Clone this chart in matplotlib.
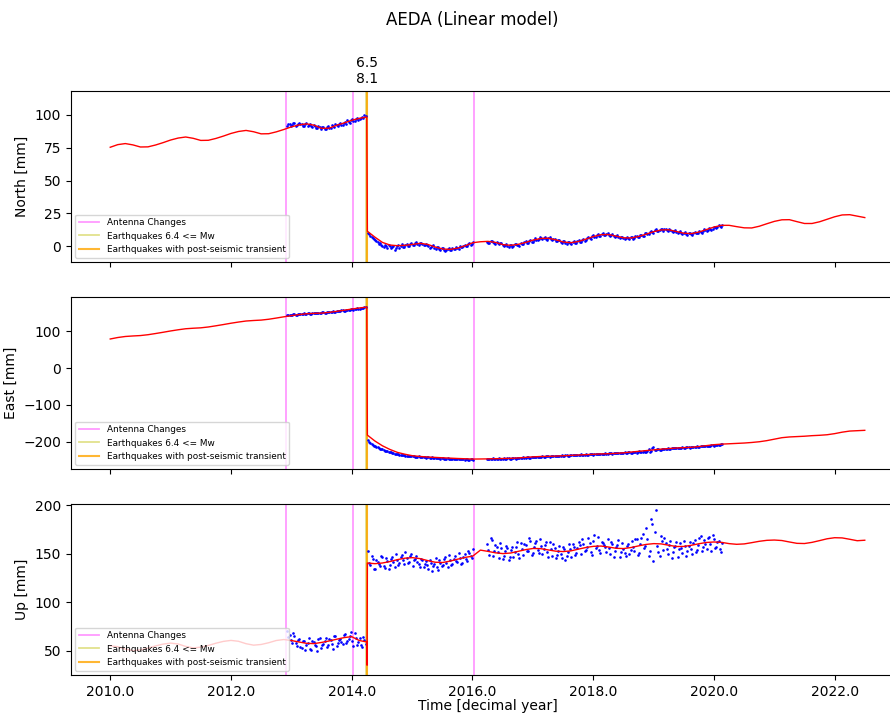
import numpy as np
import matplotlib.pyplot as plt
from matplotlib.ticker import FormatStrFormatter

station = "AEDA"

# events (decimal years)
antenna_changes = [2012.92, 2014.02, 2016.02]
quakes_mw64 = [2014.245, 2014.25]
quakes_transient = [2014.26]
quake_mw_labels = ["6.5", "8.1"]

# ---- model (red) : pre-earthquake part 2010.0 .. 2014.25 every 1/8 yr
north_model_pre = [75.4, 77.4, 78.2, 77.2, 75.6, 75.7, 77.1, 78.9,
                   80.9, 82.4, 83.2, 82.2, 80.6, 80.7, 82.1, 83.9,
                   85.9, 87.4, 88.2, 87.2, 85.6, 85.7, 87.1, 88.9,
                   90.9, 92.4, 93.2, 92.2, 89.8, 89.9, 92.1, 93.9,
                   95.9, 97.4, 98.4]
east_model_pre = [79.0, 83.0, 85.8, 87.2, 88.3, 90.6, 93.8, 97.2,
                  100.8, 104.0, 106.8, 108.2, 109.3, 111.6, 114.8, 118.2,
                  121.8, 125.0, 127.8, 129.2, 130.3, 132.6, 135.8, 139.2,
                  142.3, 145.2, 147.5, 148.6, 149.3, 151.3, 154.0, 157.1,
                  160.3, 163.2, 165.5]
up_model_pre = [55.0, 54.1, 51.6, 50.1, 50.8, 52.6, 54.9, 56.8,
                57.8, 56.9, 54.4, 52.9, 53.6, 55.4, 57.7, 59.6,
                60.6, 59.7, 57.2, 55.7, 56.4, 58.2, 60.5, 61.5,
                60.5, 59.0, 57.6, 57.3, 58.5, 60.0, 61.8, 63.5,
                64.5, 60.5, 59.0]
up_model_coseismic_dip = 35.0

# ---- model (red) : post-earthquake part 2014.26 .. 2022.5
north_model_post = [11.5, 7.0, 3.0, 1.0, 0.5, 0.8, 1.5, 2.3, 1.5, -0.5,
                    -2.0, -2.3, -1.3, 0.5, 2.8, 3.5, 3.8, 3.0, 1.3, 0.8,
                    1.5, 3.0, 4.8, 6.0, 6.2, 5.0, 3.3, 2.8, 3.7, 5.5,
                    7.5, 8.9, 9.0, 7.8, 6.5, 6.4, 7.5, 9.3, 11.2, 12.5,
                    12.6, 11.3, 10.0, 9.7, 10.9, 12.8, 14.7, 16.0, 16.0, 15.0,
                    14.1, 14.0, 15.3, 17.2, 19.0, 20.2, 20.3, 18.8, 17.4, 17.4,
                    18.7, 20.6, 22.5, 23.9, 24.1, 23.0, 21.9]
east_model_post = [-182.0, -198.0, -211.0, -221.0, -229.0, -234.0, -238.0, -240.0, -241.5, -242.5,
                   -243.6, -244.5, -245.5, -246.2, -247.0, -246.8, -246.5, -246.0, -245.5, -245.0,
                   -244.0, -242.5, -241.0, -240.0, -239.5, -239.0, -238.0, -237.0, -236.0, -235.0,
                   -234.0, -233.0, -232.5, -231.5, -230.0, -228.0, -226.0, -224.0, -222.0, -220.0,
                   -218.5, -217.0, -216.0, -215.0, -213.0, -210.5, -208.0, -206.5, -205.5, -204.5,
                   -203.5, -202.0, -200.0, -197.0, -193.0, -189.0, -187.0, -186.0, -185.0, -183.5,
                   -182.5, -181.0, -178.0, -174.0, -171.0, -170.0, -169.0]
up_model_post = [140.5, 139.8, 140.5, 142.0, 144.0, 145.5, 146.0, 145.0, 143.0, 141.3,
                 141.0, 142.5, 144.5, 146.3, 147.7, 153.8, 152.5, 151.0, 150.2, 150.8,
                 152.5, 154.3, 155.5, 155.3, 154.0, 152.7, 152.3, 153.0, 154.8, 156.5,
                 157.7, 158.0, 157.0, 155.7, 155.4, 156.5, 158.2, 159.7, 160.5, 160.2,
                 158.8, 157.5, 157.6, 158.8, 160.4, 161.7, 162.2, 161.8, 160.5, 159.8,
                 160.2, 161.5, 162.9, 163.9, 164.2, 163.7, 162.2, 160.8, 160.6, 161.8,
                 163.6, 165.5, 166.6, 166.4, 165.0, 163.5, 164.0]

# ---- observations (blue): three data spans, two interleaved sample sets
span_a, span_a2 = (2012.93, 2014.21), (2012.95, 2014.23)
span_b, span_b2 = (2014.27, 2015.99), (2014.29, 2016.01)
span_c, span_c2 = (2016.24, 2020.12), (2016.26, 2020.14)

north_obs_a = [91.5, 93.0, 92.2, 93.8, 92.5, 94.0, 92.8, 91.7, 93.5, 92.0,
               91.2, 92.6, 90.4, 91.9, 89.6, 90.8, 89.0, 91.4, 90.2, 91.8,
               92.9, 91.5, 93.6, 92.4, 94.5, 95.8, 94.2, 96.6, 95.3, 97.4,
               96.8, 98.4, 99.6]
north_obs_a2 = [92.8, 91.9, 94.1, 91.6, 93.2, 93.4, 91.9, 92.9, 91.4, 93.0,
                90.6, 91.8, 89.9, 91.0, 90.5, 89.4, 90.6, 90.0, 92.3, 90.9,
                92.1, 93.0, 92.6, 94.0, 93.3, 94.7, 96.3, 95.2, 96.9, 96.1,
                98.0, 97.5, 99.2]
north_obs_b = [10.5, 8.0, 6.4, 5.1, 3.0, 2.6, 0.4, 1.2, -1.5, 0.6,
               -0.8, -2.6, 0.4, -1.0, 1.5, -0.3, 1.8, 0.6, 2.5, 1.1,
               3.2, 1.4, 2.6, 0.9, 2.0, 0.3, -0.6, 1.0, -1.8, -0.7,
               -2.9, -1.6, -3.4, -1.9, -2.8, -0.9, -2.3, -1.2, 0.1, -0.8,
               1.2, 0.4, 2.3, 1.6]
north_obs_b2 = [9.2, 6.9, 5.6, 3.7, 2.0, 1.3, -0.6, 0.2, 0.9, -1.1,
                0.5, -1.4, 1.0, 0.2, -0.5, 0.9, 0.2, 2.0, 0.7, 2.6,
                1.8, 2.9, 1.5, 1.2, 1.4, -0.9, 0.2, -1.2, -0.3, -2.1,
                -1.0, -3.0, -2.4, -1.4, -3.1, -1.8, -0.4, -2.0, -0.5, 0.6,
                0.0, 1.6, 0.8, 3.0]
north_obs_c = [3.5, 2.2, 4.1, 2.6, 3.4, 1.5, 2.3, 0.4, 1.7, -0.2,
               1.4, 0.3, 2.0, 0.9, 2.8, 1.6, 3.9, 2.7, 4.8, 3.6,
               6.0, 4.7, 7.2, 5.3, 6.8, 5.1, 7.0, 4.6, 5.7, 3.9,
               4.8, 2.6, 3.9, 1.8, 3.2, 2.1, 3.8, 2.7, 4.6, 3.4,
               5.9, 4.8, 7.1, 5.9, 8.4, 7.0, 9.5, 8.2, 10.1, 8.6,
               9.8, 7.9, 9.1, 7.2, 8.3, 6.1, 7.4, 5.6, 7.0, 5.5,
               7.2, 6.3, 8.0, 7.1, 9.0, 8.2, 10.4, 9.6, 11.8, 10.5,
               12.9, 11.6, 13.4, 12.0, 13.5, 11.9, 12.8, 11.0, 12.3, 10.2,
               11.4, 9.3, 10.6, 8.9, 10.2, 9.0, 10.9, 9.8, 11.7, 10.5,
               12.9, 11.8, 14.0, 12.6, 15.1, 13.8, 16.4, 14.9]
north_obs_c2 = [2.8, 4.0, 3.1, 1.9, 2.7, 2.4, 0.9, 1.1, 0.2, 1.2,
                -0.4, 1.9, 1.2, 0.2, 1.9, 3.0, 2.3, 3.8, 3.3, 5.0,
                5.2, 5.9, 6.1, 6.6, 5.6, 6.2, 5.4, 5.8, 4.3, 4.6,
                3.4, 3.7, 2.5, 3.0, 2.4, 3.4, 2.2, 4.0, 3.3, 5.0,
                4.2, 6.4, 6.0, 8.0, 7.4, 8.8, 8.1, 9.7, 9.0, 9.4,
                8.7, 8.9, 8.0, 7.9, 7.1, 7.0, 6.4, 6.6, 6.2, 6.8,
                5.9, 7.6, 7.0, 8.5, 8.0, 9.8, 9.2, 11.1, 10.6, 12.3,
                11.9, 12.6, 12.9, 13.1, 12.4, 13.0, 11.7, 12.0, 11.1, 11.0,
                10.1, 10.3, 9.6, 9.8, 9.1, 10.0, 9.9, 10.4, 10.8, 11.4,
                12.1, 12.5, 13.4, 13.5, 14.4, 14.9, 15.5, 16.2]

east_obs_a = [143.5, 145.2, 143.1, 146.4, 145.0, 147.3, 146.1, 148.4, 147.0, 149.2,
              148.1, 150.0, 148.6, 150.8, 149.5, 151.6, 150.7, 152.9, 152.0, 154.3,
              153.2, 155.6, 154.8, 157.1, 156.3, 158.6, 158.0, 160.4, 159.6, 161.9,
              161.2, 163.5, 164.6]
east_obs_a2 = [144.6, 142.9, 146.0, 144.5, 147.8, 145.6, 147.5, 146.8, 148.9, 147.6,
               149.6, 149.0, 150.2, 149.3, 151.2, 150.1, 152.2, 151.3, 153.5, 152.8,
               154.9, 154.0, 156.4, 155.5, 157.8, 157.2, 159.5, 158.9, 161.0, 160.6,
               162.7, 162.1, 165.3]
east_obs_b = [-196.0, -203.0, -208.0, -212.0, -215.0, -219.0, -221.0, -224.0, -226.0, -228.0,
              -230.0, -232.0, -233.0, -235.0, -236.0, -237.0, -238.0, -238.5, -240.0, -239.0,
              -241.0, -240.0, -242.0, -241.0, -243.0, -242.0, -244.0, -243.0, -245.0, -243.5,
              -246.0, -244.0, -246.5, -245.0, -247.0, -245.5, -247.5, -246.0, -248.0, -246.5,
              -249.0, -247.0, -249.0, -247.5]
east_obs_b2 = [-200.5, -205.5, -210.5, -213.5, -217.5, -220.0, -222.5, -225.0, -227.0, -229.0,
               -231.0, -232.5, -234.0, -235.5, -236.5, -237.5, -239.0, -239.5, -238.5, -240.5,
               -241.5, -241.0, -241.5, -242.5, -242.0, -243.5, -242.5, -244.5, -244.0, -245.0,
               -245.0, -245.5, -245.5, -246.5, -246.0, -246.5, -247.0, -247.0, -247.5, -247.5,
               -248.0, -248.5, -248.0, -249.5]
east_obs_c = [-247.5, -245.8, -248.2, -246.0, -247.4, -245.3, -246.9, -244.7, -246.5, -244.9,
              -246.2, -244.1, -245.6, -243.5, -244.9, -242.6, -243.8, -241.9, -243.0, -240.8,
              -242.0, -240.1, -241.5, -239.4, -240.8, -238.6, -240.2, -238.0, -239.5, -237.4,
              -239.1, -237.0, -238.6, -236.4, -238.0, -235.9, -237.3, -235.0, -236.6, -234.4,
              -236.0, -233.8, -235.4, -233.1, -234.8, -232.5, -234.1, -232.0, -233.6, -231.2,
              -232.9, -230.6, -232.3, -230.1, -231.8, -229.3, -231.0, -228.7, -230.4, -227.9,
              -229.8, -227.2, -229.5, -226.4, -228.9, -225.8, -228.2, -220.5, -226.0, -214.0,
              -222.5, -219.8, -221.4, -218.6, -220.2, -217.5, -219.1, -216.6, -218.3, -215.8,
              -217.4, -215.0, -216.6, -214.3, -215.9, -213.4, -215.0, -212.6, -214.1, -211.5,
              -212.8, -210.4, -211.7, -209.2, -210.4, -207.8, -209.1, -206.3]
east_obs_c2 = [-246.1, -247.8, -245.2, -247.0, -246.3, -246.2, -245.5, -245.8, -245.0, -245.9,
               -244.8, -245.4, -243.9, -244.6, -243.2, -243.9, -242.4, -243.3, -241.7, -242.2,
               -240.9, -241.4, -240.6, -240.7, -239.6, -239.9, -238.8, -239.5, -238.4, -238.7,
               -237.8, -238.3, -237.2, -237.6, -236.8, -236.9, -236.1, -236.3, -235.2, -235.7,
               -234.9, -235.0, -234.2, -234.4, -233.5, -233.6, -232.9, -233.2, -232.1, -232.6,
               -231.7, -231.9, -231.2, -231.4, -230.5, -230.5, -229.8, -229.9, -228.9, -229.3,
               -228.3, -228.7, -227.6, -228.0, -227.2, -226.5, -224.0, -227.0, -218.0, -223.5,
               -221.0, -221.3, -220.0, -220.4, -219.1, -218.9, -218.0, -217.9, -217.0, -217.1,
               -216.2, -216.3, -215.5, -215.5, -214.6, -214.6, -213.8, -213.8, -212.8, -212.6,
               -211.6, -211.2, -210.5, -209.9, -209.0, -208.6, -207.5, -207.2]

up_obs_a = [70.5, 66.2, 58.4, 64.8, 55.3, 62.1, 52.8, 60.4, 56.2, 63.5,
            50.7, 58.9, 54.6, 61.8, 52.3, 57.4, 63.2, 55.8, 60.9, 51.6,
            64.7, 58.2, 62.5, 56.4, 67.3, 59.8, 65.1, 60.3, 68.2, 55.4,
            62.7, 53.9, 61.5]
up_obs_a2 = [64.1, 60.7, 68.0, 57.5, 61.2, 54.0, 59.9, 50.3, 57.6, 52.1,
             60.2, 55.7, 49.4, 62.9, 56.0, 59.8, 53.3, 61.7, 57.2, 65.5,
             54.8, 61.1, 59.3, 66.0, 57.9, 62.2, 69.1, 54.7, 63.0, 58.6,
             56.3, 64.4, 57.0]
up_obs_b = [153.0, 138.2, 144.5, 134.6, 141.8, 137.2, 146.3, 135.5, 142.7, 138.9,
            147.1, 136.8, 144.0, 140.3, 149.2, 139.5, 145.8, 141.6, 150.1, 143.2,
            147.4, 139.0, 144.9, 136.5, 142.3, 134.8, 140.6, 137.1, 145.2, 133.7,
            141.0, 138.4, 146.5, 136.2, 143.8, 139.9, 147.3, 141.2, 145.6, 140.5,
            149.4, 143.0, 151.2, 145.8]
up_obs_b2 = [140.4, 147.6, 133.9, 143.1, 139.6, 148.2, 137.8, 145.4, 134.2, 144.8,
             141.5, 150.3, 138.7, 146.2, 143.7, 152.0, 140.8, 147.9, 137.9, 145.1,
             141.9, 136.3, 143.6, 139.2, 138.0, 144.1, 132.6, 139.8, 135.9, 143.4,
             137.3, 144.7, 140.2, 148.6, 138.8, 145.0, 142.4, 150.7, 139.6, 146.9,
             144.3, 152.5, 147.7, 155.0]
up_obs_c = [160.5, 149.2, 163.8, 152.6, 157.1, 145.4, 155.8, 148.0, 158.3, 143.9,
            153.6, 146.7, 156.9, 150.2, 161.4, 148.5, 158.7, 152.9, 163.5, 150.6,
            160.8, 154.1, 165.2, 149.8, 158.6, 152.0, 161.9, 147.3, 156.2, 149.1,
            158.4, 145.6, 155.3, 148.2, 159.7, 146.9, 157.4, 151.3, 162.6, 149.5,
            160.1, 153.8, 166.3, 151.7, 163.0, 155.6, 167.5, 150.4, 161.2, 156.9,
            164.8, 149.7, 160.3, 153.1, 158.9, 147.2, 161.6, 150.5, 157.8, 149.3,
            162.9, 152.4, 165.7, 151.0, 166.4, 156.2, 176.3, 148.0, 185.8, 142.7,
            195.2, 151.6, 168.1, 153.7, 160.9, 149.4, 163.2, 151.8, 157.6, 146.5,
            160.7, 150.9, 158.2, 152.8, 162.4, 149.6, 164.1, 154.3, 166.2, 153.0,
            163.8, 155.4, 167.6, 152.7, 165.2, 157.1, 163.0, 151.8]
up_obs_c2 = [154.2, 166.4, 147.5, 159.0, 151.8, 161.2, 144.6, 152.4, 155.7, 147.1,
             157.2, 151.4, 162.3, 145.8, 155.0, 159.9, 153.4, 166.0, 148.9, 157.5,
             163.7, 151.1, 158.0, 155.2, 162.4, 146.8, 154.9, 159.6, 145.3, 153.2,
             150.0, 156.6, 143.8, 151.7, 154.6, 160.1, 148.8, 155.9, 158.6, 164.9,
             152.6, 157.3, 161.1, 148.9, 169.4, 158.2, 153.9, 162.0, 158.8, 152.3,
             156.5, 162.1, 146.4, 157.0, 163.8, 152.2, 155.4, 148.1, 160.2, 153.9,
             156.8, 165.2, 149.0, 160.6, 170.2, 158.0, 164.8, 153.2, 180.4, 172.0,
             158.3, 147.9, 162.7, 166.0, 155.1, 159.5, 146.1, 157.4, 161.9, 154.6,
             156.4, 163.3, 148.2, 157.9, 155.0, 160.8, 151.9, 159.3, 168.5, 157.4,
             159.9, 166.7, 160.3, 169.0, 156.1, 162.5, 154.7, 160.9]

north_obs = [(span_a, north_obs_a), (span_a2, north_obs_a2),
             (span_b, north_obs_b), (span_b2, north_obs_b2),
             (span_c, north_obs_c), (span_c2, north_obs_c2)]
east_obs = [(span_a, east_obs_a), (span_a2, east_obs_a2),
            (span_b, east_obs_b), (span_b2, east_obs_b2),
            (span_c, east_obs_c), (span_c2, east_obs_c2)]
up_obs = [(span_a, up_obs_a), (span_a2, up_obs_a2),
          (span_b, up_obs_b), (span_b2, up_obs_b2),
          (span_c, up_obs_c), (span_c2, up_obs_c2)]

components = [
    ("North [mm]", north_model_pre, None, north_model_post, north_obs,
     (-11.9, 118.2), [0, 25, 50, 75, 100]),
    ("East [mm]", east_model_pre, None, east_model_post, east_obs,
     (-274, 193), [-200, -100, 0, 100]),
    ("Up [mm]", up_model_pre, up_model_coseismic_dip, up_model_post, up_obs,
     (24.9, 201.4), [50, 100, 150, 200]),
]

W, H = 890, 715
fig = plt.figure(figsize=(W / 100, H / 100), dpi=100)

# axes boxes in pixels: (top, bottom)
boxes = [(91, 262), (297, 469), (504, 675)]
ax_left, ax_width = 71, 833

axes = []
for top, bot in boxes:
    rect = [ax_left / W, 1 - bot / H, ax_width / W, (bot - top) / H]
    ax = fig.add_axes(rect, sharex=axes[0] if axes else None)
    axes.append(ax)

for ax, (ylab, pre, dip, post, obs, ylim, yticks) in zip(axes, components):
    for j, t in enumerate(antenna_changes):
        ax.axvline(t, color="magenta", alpha=0.4, lw=1.3,
                   label="Antenna Changes" if j == 0 else None, zorder=1)
    for j, t in enumerate(quakes_mw64):
        ax.axvline(t, color="y", alpha=0.45, lw=1.3,
                   label="Earthquakes 6.4 <= Mw" if j == 0 else None, zorder=1)
    for j, t in enumerate(quakes_transient):
        ax.axvline(t, color="orange", alpha=0.8, lw=1.5,
                   label="Earthquakes with post-seismic transient" if j == 0 else None, zorder=1)

    for (t0, t1), vals in obs:
        ax.plot(np.linspace(t0, t1, len(vals)), vals, ".", color="b",
                ms=3.8, mew=0, zorder=2)

    t_pre = np.linspace(2010.0, 2014.25, len(pre))
    t_post = np.linspace(2014.26, 2022.5, len(post))
    if dip is None:
        tm = np.concatenate([t_pre, t_post])
        ym = np.concatenate([pre, post])
    else:
        tm = np.concatenate([t_pre, [2014.255], t_post])
        ym = np.concatenate([pre, [dip], post])
    ax.plot(tm, ym, color="r", lw=1.0, zorder=3)

    ax.set_ylim(*ylim)
    ax.set_yticks(yticks)
    ax.set_ylabel(ylab)
    ax.legend(loc="lower left", fontsize=6.4, handlelength=2.3)

axes[0].set_xlim(2009.35, 2023.15)
axes[0].set_xticks(np.arange(2010, 2023, 2))
axes[2].xaxis.set_major_formatter(FormatStrFormatter("%.1f"))
for ax in axes[:2]:
    ax.tick_params(labelbottom=False)
axes[2].set_xlabel("Time [decimal year]", labelpad=0.5)

# magnitudes above the top panel
top_ax = axes[0]
for k, lab in enumerate(reversed(quake_mw_labels)):
    top_ax.annotate(lab, xy=(quakes_mw64[-1], 1.0),
                    xycoords=("data", "axes fraction"),
                    xytext=(0, 8.6 + 11.5 * k), textcoords="offset points",
                    ha="center", va="center", fontsize=10)

fig.suptitle(f"{station} (Linear model)", x=472 / W, y=1 - 20 / H,
             va="center", fontsize=12)

fig.savefig("out.png", dpi=100)
